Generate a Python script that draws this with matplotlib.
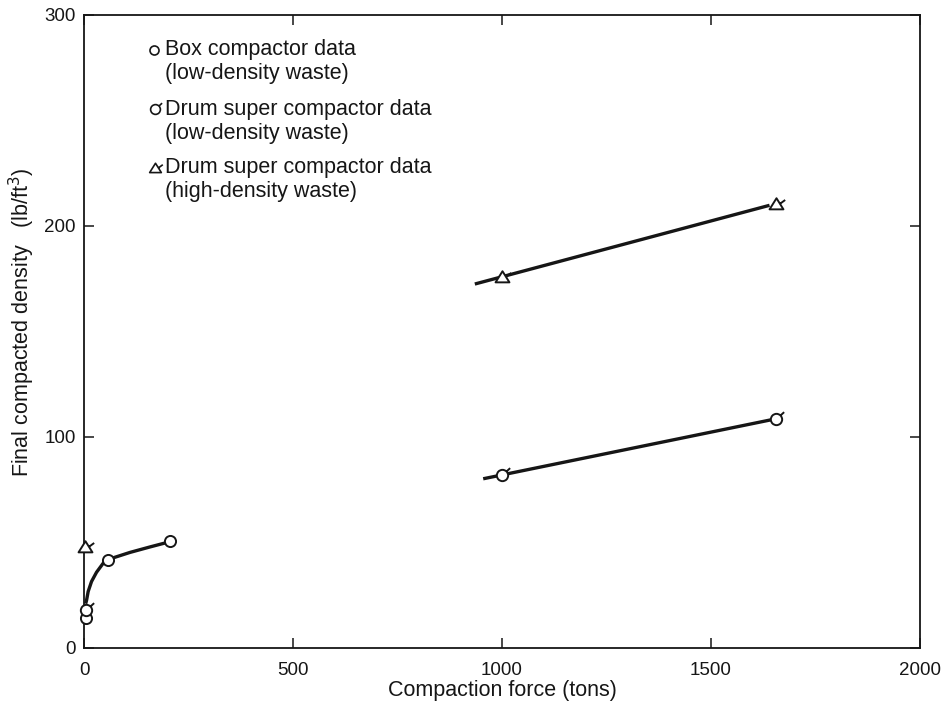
import matplotlib
matplotlib.use("Agg")
import matplotlib.pyplot as plt
from matplotlib.path import Path
from matplotlib.lines import Line2D

plt.rcParams['font.family'] = ['Liberation Sans', 'DejaVu Sans']

# ---- data ----
box_x = [5, 58, 206]
box_y = [14, 41.5, 50.5]
box_curve_x = [4, 6, 10, 18, 30, 46, 58, 74, 110, 158, 206]
box_curve_y = [21, 22.5, 26.8, 31.5, 35.9, 40.2, 41.7, 43.0, 45.3, 47.9, 50.4]

drum_low_x = [5, 1000, 1655]
drum_low_y = [18, 82, 108.5]
drum_low_line_x = [955, 1645]
drum_low_line_y = [80.2, 108.2]

drum_high_x = [3, 1000, 1655]
drum_high_y = [48, 176, 210.5]
drum_high_line_x = [935, 1640]
drum_high_line_y = [172.5, 209.8]

x_ticks = [0, 500, 1000, 1500, 2000]
y_ticks = [0, 100, 200, 300]

legend_lines = [
    ("Box compactor data", "(low-density waste)"),
    ("Drum super compactor data", "(low-density waste)"),
    ("Drum super compactor data", "(high-density waste)"),
]

INK = '#161616'

# custom markers: circle / triangle with a small flag
circ = Path.unit_circle()
flag = Path([(0.72, 0.72), (1.35, 1.3)], [Path.MOVETO, Path.LINETO])
circ_flag = Path.make_compound_path(circ, flag)
tri = Path([(0, 0.9), (-1.0, -0.7), (1.0, -0.7), (0, 0.9)],
           [Path.MOVETO, Path.LINETO, Path.LINETO, Path.CLOSEPOLY])
tri_flag = Path([(0.5, 0.1), (1.25, 0.65)], [Path.MOVETO, Path.LINETO])
tri_flagged = Path.make_compound_path(tri, tri_flag)

fig = plt.figure(figsize=(9.53, 7.03), dpi=100)
ax = fig.add_axes([84/953, 55/703, 836/953, 633/703])

mew = 1.4
ax.plot(box_curve_x, box_curve_y, color=INK, lw=2.4, zorder=2, solid_capstyle='butt')
ax.plot(drum_low_line_x, drum_low_line_y, color=INK, lw=2.4, zorder=2, solid_capstyle='butt')
ax.plot(drum_high_line_x, drum_high_line_y, color=INK, lw=2.4, zorder=2, solid_capstyle='butt')

ax.plot(box_x, box_y, ls='none', marker='o', ms=8, mfc='white', mec=INK, mew=mew, zorder=3, clip_on=False)
ax.plot(drum_low_x, drum_low_y, ls='none', marker=circ_flag, ms=11, mfc='white', mec=INK, mew=mew, zorder=4, clip_on=False)
ax.plot(drum_high_x, drum_high_y, ls='none', marker=tri_flagged, ms=12.5, mfc='white', mec=INK, mew=mew, zorder=4, clip_on=False)

ax.set_xlim(0, 2000)
ax.set_ylim(0, 300)
ax.set_xticks(x_ticks)
ax.set_yticks(y_ticks)
ax.tick_params(direction='in', length=7, width=1.1, top=True, right=True,
               labelsize=13.5, colors=INK)
ax.tick_params(axis='x', pad=10)
ax.tick_params(axis='y', pad=6)
for s in ax.spines.values():
    s.set_linewidth(1.3)
    s.set_color(INK)

ax.set_xlabel("Compaction force (tons)", fontsize=15.5, color=INK, labelpad=1)
ax.set_ylabel("Final compacted density   (lb/ft$^3$)", fontsize=15.5, color=INK)
ax.yaxis.set_label_coords(-0.056, 0.515)

# legend drawn manually
def fx(px):
    return px / 953
def fy(py):
    return 1 - py / 703

leg_markers = ['o', circ_flag, tri_flagged]
leg_ms = [6.5, 9.5, 10.5]
leg_y = [50, 109, 168]
leg_mx = [154, 155, 155]
for (l1, l2), mk, ms, py, mx in zip(legend_lines, leg_markers, leg_ms, leg_y, leg_mx):
    fig.add_artist(Line2D([fx(mx)], [fy(py)], transform=fig.transFigure, ls='none',
                          marker=mk, ms=ms, mfc='white', mec=INK, mew=1.2))
    fig.text(fx(165), fy(py), l1, fontsize=15.5, color=INK, va='center', ha='left')
    fig.text(fx(165), fy(py + 24), l2, fontsize=15.5, color=INK, va='center', ha='left')

fig.savefig("out.png", dpi=100)
